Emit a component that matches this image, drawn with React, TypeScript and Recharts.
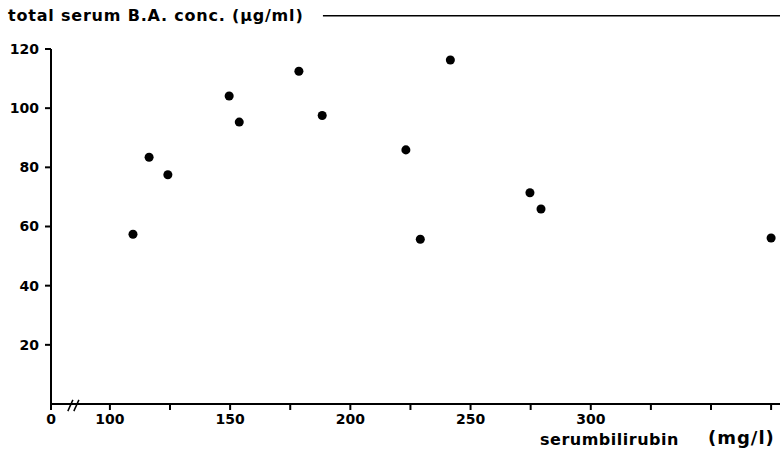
import { ReferenceLine, Scatter, ScatterChart, XAxis, YAxis, ZAxis } from 'recharts';

// serum bilirubin (mg/l) vs total serum bile acids (µg/ml), one entry per patient
const bilirubin = [109.6, 116.3, 124.1, 149.6, 153.8, 178.6, 188.3, 223.1, 229.1, 241.6, 274.7, 279.3, 375];
const serumBA = [57.4, 83.4, 77.5, 104.1, 95.3, 112.5, 97.5, 85.9, 55.7, 116.3, 71.4, 65.9, 56.1];

// the x axis is broken: its left end stands for 0
const xStart = 75.5;
const xEnd = 378.7;
const xTicks = [xStart, 100, 125, 150, 175, 200, 225, 250, 275, 300, 325, 350, 375];
const xTickLabels = ['0', '100', '', '150', '', '200', '', '250', '', '300', '', '', ''];
const yTicks = [20, 40, 60, 80, 100, 120];

const points = bilirubin.map((x, i) => ({ x, y: serumBA[i] }));

const font = '"DejaVu Sans", sans-serif';
const tickStyle = { fill: '#000', fontSize: 14, fontWeight: 700, fontFamily: font };

export default function App() {
  return (
    <div style={{ position: 'absolute', left: 0, top: 0, width: 780, height: 459, background: '#fff' }}>
      <div
        style={{
          position: 'absolute',
          left: 8,
          top: 6,
          fontFamily: font,
          fontWeight: 700,
          fontSize: 16,
          letterSpacing: 0.8,
          whiteSpace: 'nowrap',
        }}
      >
        total serum B.A. conc. (µg/ml)
      </div>
      <ScatterChart width={780} height={459} margin={{ top: 49, right: 0, bottom: 25, left: 0 }}>
        <XAxis
          type="number"
          dataKey="x"
          domain={[xStart, xEnd]}
          ticks={xTicks}
          tickFormatter={(v) => xTickLabels[xTicks.indexOf(v)] ?? ''}
          allowDataOverflow
          interval={0}
          height={30}
          tickSize={6}
          tickMargin={4}
          stroke="#000"
          strokeWidth={2}
          tick={tickStyle}
        />
        <YAxis
          type="number"
          dataKey="y"
          domain={[0, 120]}
          ticks={yTicks}
          width={51}
          tickSize={6}
          tickMargin={6}
          stroke="#000"
          strokeWidth={2}
          tick={tickStyle}
        />
        <ZAxis range={[64, 64]} />
        <ReferenceLine
          segment={[{ x: 188.6, y: 131.2 }, { x: xEnd, y: 131.2 }]}
          ifOverflow="visible"
          stroke="#000"
          strokeWidth={1.5}
        />
        <ReferenceLine
          segment={[{ x: 82.5, y: -2.4 }, { x: 84.6, y: 1.4 }]}
          ifOverflow="visible"
          stroke="#000"
          strokeWidth={1.5}
        />
        <ReferenceLine
          segment={[{ x: 85.0, y: -2.4 }, { x: 87.1, y: 1.4 }]}
          ifOverflow="visible"
          stroke="#000"
          strokeWidth={1.5}
        />
        <Scatter data={points} fill="#000" isAnimationActive={false} />
      </ScatterChart>
      <div
        style={{
          position: 'absolute',
          left: 540,
          top: 430,
          fontFamily: font,
          fontWeight: 700,
          fontSize: 16,
          letterSpacing: 0.5,
          whiteSpace: 'nowrap',
        }}
      >
        serumbilirubin
      </div>
      <div
        style={{
          position: 'absolute',
          left: 708,
          top: 427,
          fontFamily: font,
          fontWeight: 700,
          fontSize: 18,
          letterSpacing: 1,
          whiteSpace: 'nowrap',
        }}
      >
        (mg/l)
      </div>
    </div>
  );
}
